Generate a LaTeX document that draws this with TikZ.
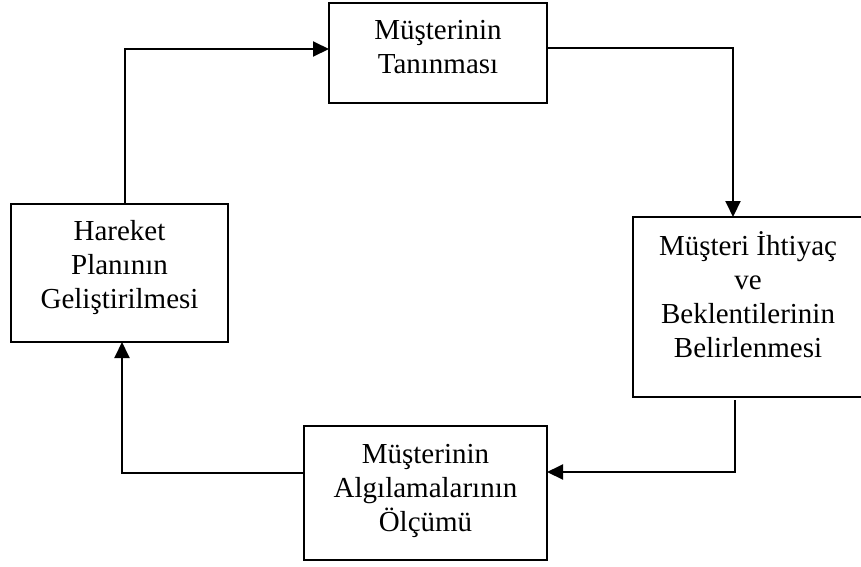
\documentclass[tikz,border=0pt]{standalone}
\usepackage{fontspec}
\setmainfont{Liberation Serif}
\usetikzlibrary{arrows.meta}
\tikzset{
  box/.style={draw=black, line width=2pt, rectangle, inner sep=0pt, outer sep=0pt},
  boxtext/.style={align=center, anchor=base, inner sep=0pt, font=\fontsize{29pt}{34pt}\selectfont},
  conn/.style={line width=2pt, -{Triangle[length=16pt,width=15pt]}}
}
\begin{document}
\begin{tikzpicture}[x=1pt,y=-1pt]
\useasboundingbox[fill=white] (0,0) rectangle (861,566);
% boxes
\node[box, minimum width=218pt, minimum height=100pt] (top) at (438,53) {};
\node[box, minimum width=234pt, minimum height=180pt] (right) at (750,307) {};
\node[box, minimum width=243pt, minimum height=134pt] (bottom) at (425.5,493) {};
\node[box, minimum width=217pt, minimum height=138pt] (left) at (119.5,273) {};
% texts (anchor base = baseline of the last line)
\node[boxtext] (top-t) at (438,73) {Müşterinin\\Tanınması};
\node[boxtext] (right-t) at (748,357) {Müşteri İhtiyaç\\ve\\Beklentilerinin\\Belirlenmesi};
\node[boxtext] (bottom-t) at (425.5,531) {Müşterinin\\Algılamalarının\\Ölçümü};
\node[boxtext] (left-t) at (119.5,308) {Hareket\\Planının\\Geliştirilmesi};
% corner coordinates
\coordinate (c1) at (733,48);
\coordinate (c2) at (735,472);
\coordinate (c3) at (122,473);
\coordinate (c4) at (125,49);
% connectors
\draw[conn] (top.east |- c1) -- (c1) -- (c1 |- right.north);
\draw[conn] (c2 |- right.south) ++(0,3) -- (c2) -- (c2 -| bottom.east);
\draw[conn] (c3 -| bottom.west) -- (c3) -- (c3 |- left.south);
\draw[conn] (c4 |- left.north) -- (c4) -- (c4 -| top.west);
\end{tikzpicture}
\end{document}
